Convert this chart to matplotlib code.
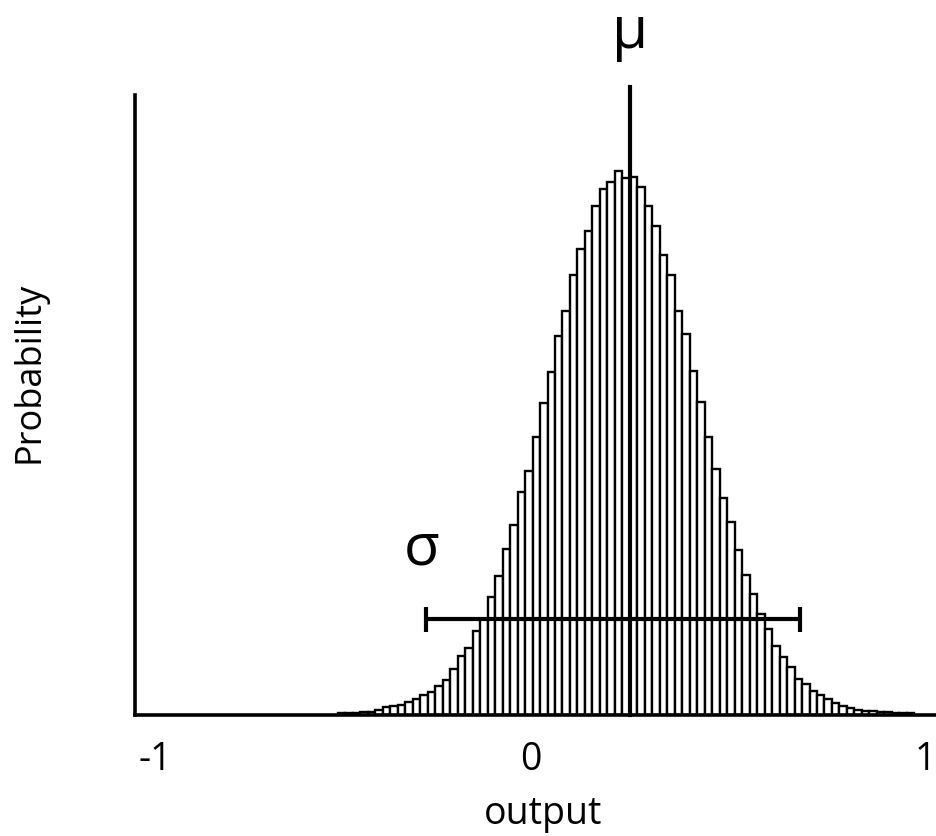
import numpy as np
import matplotlib.pyplot as plt
from matplotlib import transforms

plt.rcParams['font.family'] = ['Open Sans', 'DejaVu Sans']

# histogram of the output, bin heights in relative counts
bin_start = -0.49
bin_width = 0.019
freq = np.array([2, 2, 2, 3, 3,
                 5, 8, 9, 10, 13, 16, 20, 23, 29, 35,
                 46, 59, 67, 84, 96, 118, 139, 166, 190, 223,
                 244, 278, 312, 343, 379, 404, 440, 466, 484, 509,
                 526, 533, 544, 537, 538, 528, 509, 489, 460, 440,
                 404, 381, 344, 313, 278, 246, 217, 193, 165, 140,
                 121, 101, 86, 69, 58, 48, 36, 31, 24, 20,
                 16, 12, 9, 7, 5, 4, 4,
                 3, 3, 2, 2, 2])
prob = freq / freq.sum()

mu = 0.251
sigma_lo, sigma_hi = -0.266, 0.683
sigma_level = 96 / freq.sum()

tick_vals = [-1, 0, 1]
tick_labels = ['-1', '0', '1']

fig = plt.figure(figsize=(9.36, 8.37), dpi=100)
ax = fig.add_axes([135 / 936, 121 / 837, 801 / 936, 620 / 837])

left_edges = bin_start + bin_width * np.arange(len(prob))
ax.bar(left_edges, prob, width=bin_width, align='edge',
       facecolor='white', edgecolor='black', linewidth=1.7, zorder=2)

# mean marker
ax.axvline(mu, ymin=0, ymax=1.013, color='black', linewidth=3, clip_on=False, zorder=3)
ax.text(mu, 1.077, 'μ', transform=ax.get_xaxis_transform(),
        ha='center', va='baseline', fontsize=42)

# spread bar
ax.errorbar((sigma_lo + sigma_hi) / 2, sigma_level, xerr=(sigma_hi - sigma_lo) / 2,
            fmt='none', ecolor='black', elinewidth=3, capsize=9, capthick=3, zorder=4)
ax.text(-0.277, 0.244, 'σ', transform=ax.get_xaxis_transform(),
        ha='center', va='baseline', fontsize=42)

ax.set_xlim(-1.005, 1.028)
ax.set_ylim(0, prob.max() * 620 / 544)
ax.set_xticks(tick_vals)
ax.set_xticklabels(tick_labels, fontsize=27)
ax.set_yticks([])
ax.tick_params(axis='x', length=0, pad=18)
# the "-1" label sits a little right of the axis corner
shift = transforms.ScaledTranslation(18 / 100, 0, fig.dpi_scale_trans)
lbl = ax.get_xticklabels()[0]
lbl.set_transform(lbl.get_transform() + shift)

for side in ['top', 'right']:
    ax.spines[side].set_visible(False)
for side in ['left', 'bottom']:
    ax.spines[side].set_linewidth(2.6)

fig.text(543 / 936, 1 - 824 / 837, 'output', ha='center', va='baseline', fontsize=27)
fig.text(30 / 936, 1 - 372 / 837, 'Probability', ha='center', va='center',
         rotation=90, fontsize=26)

fig.savefig('out.png', dpi=100)
